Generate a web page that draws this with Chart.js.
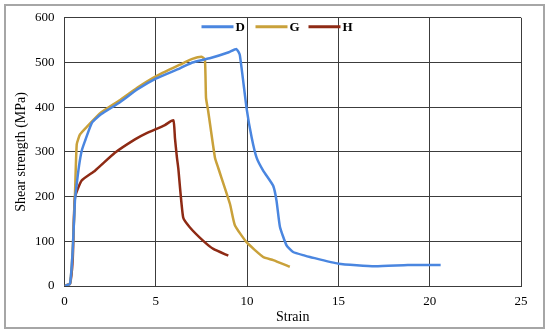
<!DOCTYPE html>
<html>
<head>
<meta charset="utf-8">
<script src="https://cdn.jsdelivr.net/npm/chart.js@4"></script>
<style>
  html, body { margin: 0; padding: 0; background: #fff; }
  #wrap { position: relative; width: 550px; height: 334px; }
  #frame {
    position: absolute; left: 4px; top: 4px; width: 537px; height: 321px;
    border: 2px solid #a6a6a6; pointer-events: none;
  }
</style>
</head>
<body>
<div id="wrap">
  <canvas id="shearChart" width="550" height="334"></canvas>
  <div id="frame"></div>
</div>
<script>
const seriesNames = ["D", "G", "H"];
const seriesColors = ["#4a86e0", "#c9a13a", "#8e2a14"];

const dStrain = [0, 0.3, 0.45, 0.57, 0.67, 0.8, 0.94, 1.12, 1.5, 2, 3, 4, 5, 6.32, 7, 8, 9, 9.42, 9.6, 9.97, 10.25, 10.52, 10.88, 11.43, 11.61, 11.8, 12.16, 12.52, 13.16, 13.44, 15, 17, 18.8, 20.6];
const dStress = [0, 5, 80, 190, 228, 270, 302, 324, 365, 384, 410, 440, 464, 487, 500, 510, 523, 530, 517, 398, 332, 287, 258, 224, 191, 132, 91, 76, 68, 65, 50, 44, 47, 47];

const gStrain = [0, 0.3, 0.45, 0.57, 0.67, 0.85, 1.2, 2, 3, 4, 5, 6.32, 7, 7.51, 7.69, 7.75, 7.87, 8.24, 8.42, 9.06, 9.33, 9.97, 10.88, 11.43, 12.34];
const gStress = [0, 5, 80, 200, 317, 339, 355, 388, 415, 444, 469, 495, 508, 513, 506, 421, 391, 287, 264, 184, 136, 98, 65, 58, 43];

const hStrain = [0, 0.3, 0.45, 0.57, 0.94, 1.67, 2.76, 3.86, 4.5, 5.5, 5.96, 6.05, 6.15, 6.23, 6.5, 6.87, 7.6, 8.15, 8.97];
const hStress = [0, 5, 60, 198, 236, 258, 298, 328, 342, 360, 371, 330, 290, 264, 153, 131, 101, 83, 68];

const xTicks = [0, 5, 10, 15, 20, 25];
const yTicks = [0, 100, 200, 300, 400, 500, 600];

function toPoints(xs, ys) {
  return xs.map((x, i) => ({ x: x, y: ys[i] }));
}

const FONT = "'Liberation Serif', 'Times New Roman', serif";

// legend sits inside the plot, near the top
const insideLegend = {
  id: "insideLegend",
  afterDatasetsDraw(chart) {
    const ctx = chart.ctx;
    const area = chart.chartArea;
    const starts = [137, 191, 244];
    const y = area.top + 9;
    ctx.save();
    ctx.font = "bold 13px " + FONT;
    ctx.textBaseline = "middle";
    chart.data.datasets.forEach((ds, i) => {
      const x0 = area.left + starts[i];
      ctx.strokeStyle = ds.borderColor;
      ctx.lineWidth = 3;
      ctx.beginPath();
      ctx.moveTo(x0, y);
      ctx.lineTo(x0 + 32, y);
      ctx.stroke();
      ctx.fillStyle = "#000";
      ctx.fillText(ds.label, x0 + 34, y + 1);
    });
    ctx.restore();
  },
};

const datasets = [
  toPoints(dStrain, dStress),
  toPoints(gStrain, gStress),
  toPoints(hStrain, hStress),
].map((pts, i) => ({
  label: seriesNames[i],
  data: pts,
  borderColor: seriesColors[i],
  backgroundColor: seriesColors[i],
  borderWidth: 2.5,
  pointRadius: 0,
  tension: 0.15,
  fill: false,
}));

new Chart(document.getElementById("shearChart"), {
  type: "line",
  data: { datasets },
  plugins: [insideLegend],
  options: {
    responsive: false,
    animation: false,
    events: [],
    layout: { padding: { top: 16, right: 29, left: 0, bottom: 0 } },
    plugins: { legend: { display: false }, tooltip: { enabled: false } },
    scales: {
      x: {
        type: "linear",
        min: 0,
        max: 25,
        afterBuildTicks: (s) => { s.ticks = xTicks.map((v) => ({ value: v })); },
        afterFit: (s) => { s.height = 48; },
        grid: { color: "#3c3c3c", lineWidth: 1, drawTicks: false },
        border: { color: "#3c3c3c", width: 1 },
        ticks: { color: "#000", font: { family: FONT, size: 13 }, padding: 8 },
        title: {
          display: true, text: "Strain", color: "#000",
          font: { family: FONT, size: 14 }, padding: 8,
        },
      },
      y: {
        type: "linear",
        min: 0,
        max: 600,
        afterBuildTicks: (s) => { s.ticks = yTicks.map((v) => ({ value: v })); },
        afterFit: (s) => { s.width = 64.5; },
        grid: { color: "#3c3c3c", lineWidth: 1, drawTicks: false },
        border: { color: "#3c3c3c", width: 1 },
        ticks: { color: "#000", font: { family: FONT, size: 13 }, padding: 10 },
        title: {
          display: true, text: "Shear strength (MPa)", color: "#000",
          font: { family: FONT, size: 14 }, padding: 13,
        },
      },
    },
  },
});
</script>
</body>
</html>
